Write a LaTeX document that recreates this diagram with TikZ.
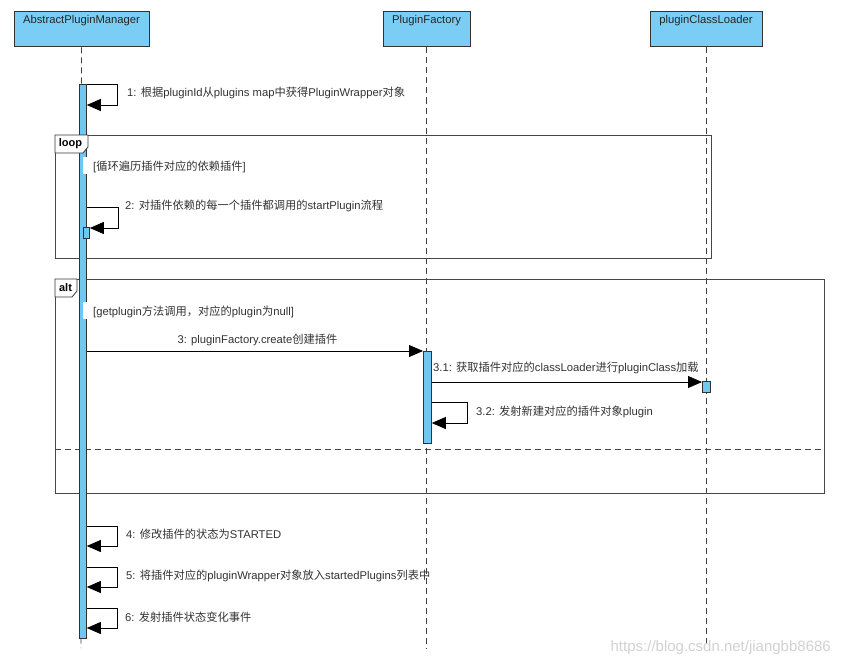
\documentclass[tikz,border=0pt]{standalone}
\usepackage{fontspec}
\setmainfont{Liberation Sans}
\newfontfamily\cjk{Noto Sans CJK SC}
\newcommand\zh[1]{{\cjk #1}}
\usetikzlibrary{arrows.meta}
\definecolor{partfill}{HTML}{7ACDF4}
\definecolor{barfill}{HTML}{6EC8F2}
\definecolor{edgec}{HTML}{333333}
\begin{document}
\begin{tikzpicture}[x=1pt,y=-1pt,font=\fontsize{11.25}{13}\selectfont,
  part/.style={draw=edgec,line width=1pt,fill=partfill,minimum height=35pt,inner sep=0pt},
  ptext/.style={inner sep=0pt,text=black!85},
  lifeline/.style={draw=gray!50!black,dash pattern=on 6pt off 4pt,line width=0.8pt},
  actbar/.style={draw=edgec,fill=barfill,line width=0.8pt,inner sep=0pt,anchor=north west},
  msg/.style={draw=black,line width=0.8pt,-{Triangle[length=14pt,width=12pt]}},
  frm/.style={draw=edgec!90,line width=1pt},
  tab/.style={draw=edgec,fill=white,line width=0.8pt},
  lbl/.style={anchor=west,inner sep=0pt,text=black!80},
  guard/.style={anchor=west,inner sep=0pt,text=black!80}]
\useasboundingbox (0,0) rectangle (841,669);
\fill[white] (0,0) rectangle (841,669);

% participants
\node[part,minimum width=135pt] (apm) at (81.5,29.5) {};
\node[part,minimum width=87pt] (pf) at (426.5,29.5) {};
\node[part,minimum width=112pt] (pcl) at (706,29.5) {};
\node[ptext] (apmt) at (81.5,21) {AbstractPluginManager};
\node[ptext] (pft) at (426.5,21) {PluginFactory};
\node[ptext] (pclt) at (706,21) {pluginClassLoader};

% lifelines
\coordinate (apme) at (81,648);
\coordinate (pfe) at (426.5,648);
\coordinate (pcle) at (706,646);
\draw[lifeline] (apm.south) -- (apme);
\draw[lifeline] (pf.south) -- (pfe);
\draw[lifeline] (pcl.south) -- (pcle);

% frames
\draw[frm] (55,135) rectangle (711,258);
\draw[frm] (55,279) rectangle (824,493);
\draw[frm,dash pattern=on 6pt off 4pt] (55,449) -- (824,449);

% activation bars
\node[actbar,minimum width=7pt,minimum height=554pt] (b1) at (79,84) {};
\node[actbar,minimum width=6pt,minimum height=11pt] (b2) at (83,227) {};
\node[actbar,minimum width=8pt,minimum height=92pt] (bpf) at (423,351) {};
\node[actbar,minimum width=8pt,minimum height=11pt] (bpcl) at (702,381) {};

% tabs
\draw[tab] (55,135) -- (88,135) -- (88,147) -- (83,153) -- (55,153) -- cycle;
\node[inner sep=0pt,font=\bfseries\fontsize{11}{13}\selectfont] (looplbl) at (70.5,144) {loop};
\draw[tab] (55,279) -- (77,279) -- (77,291) -- (72,297) -- (55,297) -- cycle;
\node[inner sep=0pt,font=\bfseries\fontsize{11}{13}\selectfont] (altlbl) at (65.5,288) {alt};

% guards
\fill[white] (83,157) rectangle (86.5,174);
\node[guard] (g1) at (93,166.5) {[\zh{循环遍历插件对应的依赖插件}]};
\fill[white] (83,302) rectangle (86.5,319);
\node[guard] (g2) at (93,311.5) {[getplugin\zh{方法调用，对应的}plugin\zh{为}null]};

% messages
\draw[msg] (b1.east |- 0,84) -- (117,84) -- (117,105) -- (b1.east |- 0,105);
\node[lbl] (m1) at (127,93) {1: \zh{根据}pluginId\zh{从}plugins map\zh{中获得}PluginWrapper\zh{对象}};

\draw[msg] (b1.east |- 0,207) -- (118,207) -- (118,228) -- (b2.east |- 0,228);
\node[lbl] (m2) at (125,206) {2: \zh{对插件依赖的每一个插件都调用的}startPlugin\zh{流程}};

\draw[msg] (b1.east |- 0,351) -- (bpf.north west);
\node[inner sep=0pt,text=black!80] (m3) at (257.5,339.5) {3: pluginFactory.create\zh{创建插件}};

\draw[msg] (bpf.east |- 0,382) -- (bpcl.west |- 0,382);
\node[lbl] (m31) at (433,368) {3.1: \zh{获取插件对应的}classLoader\zh{进行}pluginClass\zh{加载}};

\draw[msg] (bpf.east |- 0,402) -- (467,402) -- (467,423) -- (bpf.east |- 0,423);
\node[lbl] (m32) at (476,411.5) {3.2: \zh{发射新建对应的插件对象}plugin};

\draw[msg] (b1.east |- 0,526) -- (117,526) -- (117,546) -- (b1.east |- 0,546);
\node[lbl] (m4) at (126,534.5) {4: \zh{修改插件的状态为}STARTED};

\draw[msg] (b1.east |- 0,567) -- (117,567) -- (117,587) -- (b1.east |- 0,587);
\node[lbl] (m5) at (126,576) {5: \zh{将插件对应的}pluginWrapper\zh{对象放入}startedPlugins\zh{列表中}};

\draw[msg] (b1.east |- 0,608) -- (117,608) -- (117,628) -- (b1.east |- 0,628);
\node[lbl] (m6) at (125,617) {6: \zh{发射插件状态变化事件}};

% watermark
\node[anchor=east,inner sep=0pt,text=gray!35,font=\fontsize{15}{17}\selectfont] (wm) at (831,648) {https://blog.csdn.net/jiangbb8686};
\end{tikzpicture}
\end{document}
